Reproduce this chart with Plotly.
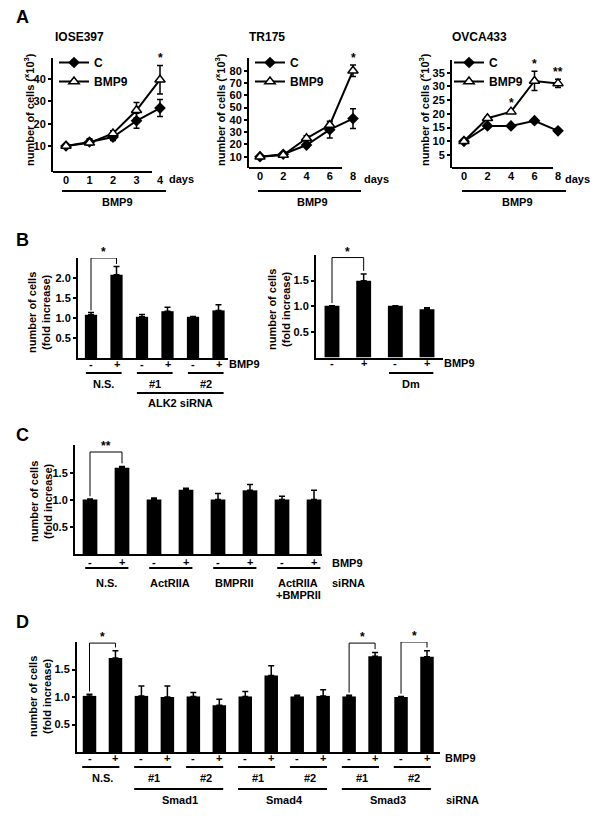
import plotly.graph_objects as go

# ---------------- data ----------------
# A: growth curves, number of cells (x10^3)
iose_days = [0, 1, 2, 3, 4]
iose_c = [10, 11.8, 14, 21.3, 27]
iose_c_err = [0.5, 1.5, 1.5, 3.4, 3.8]
iose_bmp9 = [10, 11.4, 15.6, 26, 39.7]
iose_bmp9_err = [0.5, 1.0, 1.2, 3.5, 6.4]
iose_sig = {4: "*"}

tr_days = [0, 2, 4, 6, 8]
tr_c = [10, 12, 19.5, 32, 41]
tr_c_err = [0.5, 0.5, 1.5, 6.8, 8]
tr_bmp9 = [10, 11.4, 25, 35.8, 80]
tr_bmp9_err = [1.0, 0.5, 2.0, 1.5, 4.7]
tr_sig = {8: "*"}

ov_days = [0, 2, 4, 6, 8]
ov_c = [10, 15.6, 15.6, 17.5, 13.8]
ov_c_err = [0.4, 0.5, 0.8, 0.5, 0.4]
ov_bmp9 = [10, 18.4, 20.8, 32, 31.1]
ov_bmp9_err = [0.5, 0.5, 0.5, 3.5, 1.5]
ov_sig = {4: "*", 6: "*", 8: "**"}

# B left: ALK2 siRNA (fold increase)
b1_bmp9 = ["-", "+", "-", "+", "-", "+"]
b1_vals = [1.08, 2.08, 1.03, 1.17, 1.03, 1.19]
b1_err = [0.06, 0.21, 0.06, 0.10, 0.01, 0.14]
b1_groups = [("N.S.", 0, 1), ("#1", 2, 3), ("#2", 4, 5)]
b1_super = [("ALK2 siRNA", 2, 5)]
b1_brackets = [(0, 1, "*", 2.5)]

# B right: Dm
b2_bmp9 = ["-", "+", "-", "+"]
b2_vals = [1.01, 1.50, 1.01, 0.94]
b2_err = [0.0, 0.13, 0.0, 0.03]
b2_groups = [("Dm", 2, 3)]
b2_brackets = [(0, 1, "*", 1.95)]

# C: type II receptor siRNA
c_bmp9 = ["-", "+"] * 4
c_vals = [1.01, 1.60, 1.01, 1.19, 1.01, 1.18, 1.01, 1.01]
c_err = [0.01, 0.02, 0.03, 0.03, 0.11, 0.11, 0.06, 0.17]
c_groups = [("N.S.", 0, 1), ("ActRIIA", 2, 3), ("BMPRII", 4, 5), ("ActRIIA", 6, 7)]
c_brackets = [(0, 1, "**", 1.89)]

# D: Smad siRNA
d_bmp9 = ["-", "+"] * 7
d_vals = [1.02, 1.71, 1.02, 1.00, 1.01, 0.85, 1.01, 1.39, 1.01, 1.02, 1.01, 1.74, 1.00, 1.73]
d_err = [0.03, 0.13, 0.18, 0.20, 0.07, 0.11, 0.09, 0.18, 0.02, 0.11, 0.02, 0.07, 0.01, 0.11]
d_groups = [("N.S.", 0, 1), ("#1", 2, 3), ("#2", 4, 5), ("#1", 6, 7), ("#2", 8, 9), ("#1", 10, 11), ("#2", 12, 13)]
d_super = [("Smad1", 2, 5), ("Smad4", 6, 9), ("Smad3", 10, 13)]
d_brackets = [(0, 1, "*", 1.98), (10, 11, "*", 1.98), (12, 13, "*", 2.0)]

# ---------------- helpers ----------------
# the page body has an 8px margin, so the figure is 8px smaller and all
# screen positions below are shifted by that offset
OFF = 8
W, H = 600 - OFF, 820 - OFF


def fx(p):
    return (p - OFF) / W


def fy(p):
    return 1 - (p - OFF) / H


def span(a, b, pa, va, pb, vb):
    # pixel interval [a, b] -> value range, given two calibration points
    k = (vb - va) / (pb - pa)
    return [va + (a - pa) * k, va + (b - pa) * k]


fig = go.Figure()
layout = dict(
    width=W, height=H, margin=dict(l=0, r=0, t=0, b=0),
    paper_bgcolor="white", plot_bgcolor="white",
    font=dict(family="Liberation Sans, Arial, sans-serif", size=11, color="black", weight="bold"),
)
ann = []
shapes = []


def sfx(n):
    return "" if n == 1 else str(n)


def set_axes(n, xdom, ydom, xr, yr, yticks, xticks=None, xline=True, yfmt=None):
    s = sfx(n)
    layout["xaxis" + s] = dict(
        domain=[fx(xdom[0]), fx(xdom[1])], range=xr, anchor="y" + s,
        showgrid=False, zeroline=False, showline=xline, linecolor="black", linewidth=2,
        ticks="", tickvals=xticks, showticklabels=xticks is not None,
        tickfont=dict(size=11), fixedrange=True)
    layout["yaxis" + s] = dict(
        domain=[fy(ydom[1]), fy(ydom[0])], range=yr, anchor="x" + s,
        showgrid=False, zeroline=False, showline=True, linecolor="black", linewidth=2,
        ticks="outside", ticklen=3, tickwidth=1.5, tickcolor="black",
        tickvals=yticks, tickformat=yfmt, tickfont=dict(size=11), fixedrange=True)


def text(x, y, t, size=11, xref="paper", yref="paper", **kw):
    d = dict(x=x, y=y, text=t, xref=xref, yref=yref, showarrow=False,
             xanchor="center", yanchor="middle", font=dict(size=size, color="black"))
    d.update(kw)
    ann.append(d)


def hline(x0, x1, y, xref="paper", w=2):
    shapes.append(dict(type="line", xref=xref, yref="paper", x0=x0, x1=x1, y0=y, y1=y,
                       line=dict(color="black", width=w)))


# ---------------- panel A ----------------
def growth(n, days, c, c_err, b, b_err, sig, legend):
    s = sfx(n)
    common = dict(xaxis="x" + s, yaxis="y" + s, mode="lines+markers", legend=legend, cliponaxis=False)
    fig.add_trace(go.Scatter(
        x=days, y=c, name="C", line=dict(color="black", width=2),
        marker=dict(symbol="diamond", size=9, color="black"),
        error_y=dict(type="data", array=c_err, color="black", thickness=1.5, width=3), **common))
    fig.add_trace(go.Scatter(
        x=days, y=b, name="BMP9", line=dict(color="black", width=2),
        marker=dict(symbol="triangle-up", size=9, color="white", line=dict(color="black", width=1.5)),
        error_y=dict(type="data", array=b_err, color="black", thickness=1.5, width=3), **common))
    for d, lab in sig.items():
        i = days.index(d)
        top = max(c[i] + c_err[i], b[i] + b_err[i])
        text(d, top, lab, size=12, xref="x" + s, yref="y" + s, yanchor="bottom", yshift=-2)


set_axes(1, (53, 178), (58, 172), span(53, 178, 66, 0, 160, 4), span(172, 58, 146, 10, 79, 40),
         [10, 20, 30, 40], iose_days, xline=False)
set_axes(2, (249, 366), (58, 168), span(249, 366, 260, 0, 353, 8), span(168, 58, 156.7, 10, 70.7, 80),
         list(range(10, 90, 10)), tr_days, xline=False)
set_axes(3, (452, 570), (60, 168), span(452, 570, 464, 0, 558, 8), span(168, 60, 155, 5, 72.7, 35),
         list(range(5, 40, 5)), ov_days, xline=False)

growth(1, iose_days, iose_c, iose_c_err, iose_bmp9, iose_bmp9_err, iose_sig, "legend")
growth(2, tr_days, tr_c, tr_c_err, tr_bmp9, tr_bmp9_err, tr_sig, "legend2")
growth(3, ov_days, ov_c, ov_c_err, ov_bmp9, ov_bmp9_err, ov_sig, "legend3")

for key, xl in (("legend", 54), ("legend2", 250), ("legend3", 449)):
    layout[key] = dict(x=fx(xl), y=fy(48), xanchor="left", yanchor="top", bgcolor="rgba(0,0,0,0)",
                       font=dict(size=12), tracegroupgap=0, itemwidth=30)

for title, x_start, ax_start, ytit, xaxis_end, ax_y, bar_l, bar_r, bmp_x, day_x in (
        ("IOSE397", 53, 53, 29, 152, 172, 62, 166, 117, 167),
        ("TR175", 247, 249, 220, 342, 168, 258, 361, 312, 362),
        ("OVCA433", 450, 452, 424, 553, 168, 462, 566, 517, 563)):
    text(fx(x_start), fy(37), title, size=12, xanchor="left")
    text(fx(ytit), fy(110), "number of cells (<sup>x</sup>10<sup>3</sup>)", size=11, textangle=-90)
    hline(fx(ax_start), fx(xaxis_end), fy(ax_y))
    hline(fx(bar_l), fx(bar_r), fy(191))
    text(fx(bmp_x), fy(202), "BMP9", size=11)
    text(fx(day_x), fy(179), "days", size=11, xanchor="left")

# ---------------- bar panels ----------------
def bars(n, vals, err, width, brackets, signs, y_sign):
    s = sfx(n)
    fig.add_trace(go.Bar(
        x=list(range(len(vals))), y=vals, width=width, xaxis="x" + s, yaxis="y" + s,
        marker=dict(color="black", line=dict(width=0)), showlegend=False,
        error_y=dict(type="data", symmetric=False, array=err, arrayminus=[0] * len(err),
                     color="black", thickness=1.5, width=3)))
    for i, sign in enumerate(signs):
        text(i, fy(y_sign), sign, xref="x" + s)
    for i, j, lab, yb in brackets:
        yi = vals[i] + err[i] + 0.05
        yj = vals[j] + err[j] + 0.06
        shapes.append(dict(type="path", xref="x" + s, yref="y" + s,
                           path=f"M {i},{yi} L {i},{yb} L {j},{yb} L {j},{yj}",
                           line=dict(color="black", width=1)))
        text((i + j) / 2, yb, lab, size=12, xref="x" + s, yref="y" + s, yanchor="bottom", yshift=-3)


def labels(n, groups, y_line, y_text, super_=(), y_sline=None, y_stext=None, lo=0.2, hi=0.2):
    s = sfx(n)
    for lab, i, j in groups:
        hline(i - lo, j + hi, fy(y_line), xref="x" + s)
        text((i + j) / 2, fy(y_text), lab, xref="x" + s)
    for lab, i, j in super_:
        hline(i - lo, j + hi, fy(y_sline), xref="x" + s)
        text((i + j) / 2, fy(y_stext), lab, xref="x" + s)


ytitle = "number of cells<br>(fold increase)"

# B left
set_axes(4, (78, 228), (258, 358), span(78, 228, 91, 0, 218.5, 5), [0, 2.5],
         [0.5, 1.0, 1.5, 2.0], yfmt=".1f")
bars(4, b1_vals, b1_err, 0.48, b1_brackets, b1_bmp9, 364)
labels(4, b1_groups, 373, 384, b1_super, 393, 403)
text(fx(244), fy(364), "BMP9")
text(fx(39), fy(313), ytitle, textangle=-90)
text(fx(22), fy(240), "B", size=18)

# B right
set_axes(5, (316, 443), (255, 357.5), span(316, 443, 332, 0, 427, 3), [0, 2.0],
         [0.5, 1.0, 1.5], yfmt=".1f")
bars(5, b2_vals, b2_err, 0.47, b2_brackets, b2_bmp9, 363)
labels(5, b2_groups, 373, 384)
text(fx(459), fy(363), "BMP9")
text(fx(279), fy(310), ytitle, textangle=-90)

# C
set_axes(6, (75, 322), (445, 554), span(75, 322, 90, 0, 314, 7), [0, 2.02],
         [0.5, 1.0, 1.5], yfmt=".1f")
bars(6, c_vals, c_err, 0.46, c_brackets, c_bmp9, 562)
labels(6, c_groups, 568, 583, lo=0.15)
text(6.5, fy(595), "+BMPRII", xref="x6")
text(fx(347), fy(563), "BMP9")
text(fx(348), fy(583), "siRNA")
text(fx(41), fy(502), ytitle, textangle=-90)
text(fx(22), fy(435), "C", size=18)

# D
set_axes(7, (77, 440), (642, 752), span(77, 440, 89.5, 0, 427, 13), [0, 2.0],
         [0.5, 1.0, 1.5], yfmt=".1f")
bars(7, d_vals, d_err, 0.52, d_brackets, d_bmp9, 758)
labels(7, d_groups, 767, 778, d_super, 789, 800, lo=0.28, hi=0.15)
text(fx(460), fy(758), "BMP9")
text(fx(462), fy(800), "siRNA")
text(fx(40), fy(697), ytitle, textangle=-90)
text(fx(22), fy(622), "D", size=18)

text(fx(22), fy(17), "A", size=18)

layout["annotations"] = ann
layout["shapes"] = shapes
fig.update_layout(**layout)
fig.write_html("out.html")
